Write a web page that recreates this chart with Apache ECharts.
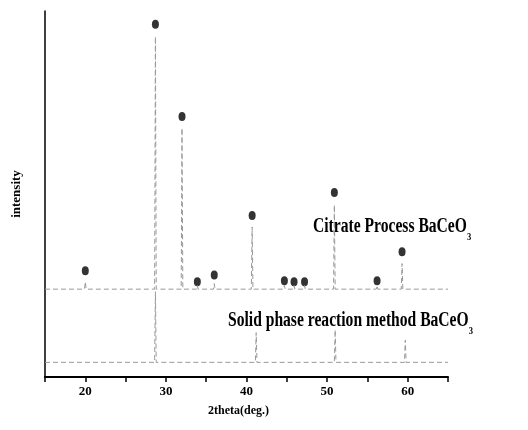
<!DOCTYPE html>
<html>
<head>
<meta charset="utf-8">
<script src="https://cdn.jsdelivr.net/npm/echarts@6/dist/echarts.min.js"></script>
<style>
html,body{margin:0;padding:0;background:#fff;}
#chart{width:528px;height:430px;}
</style>
</head>
<body>
<div id="chart"></div>
<script>
// 2theta tick labels shown on the x axis
var tickLabels = [20, 30, 40, 50, 60];

// Citrate process BaCeO3 pattern (2theta, intensity)
var citrateTheta = [15, 19.9, 20.0, 20.1, 28.6, 28.7, 28.8, 31.9, 32.0, 32.1, 33.8, 33.9, 34.0, 35.9, 36.0, 36.1, 40.6, 40.7, 40.8, 44.6, 44.7, 44.8, 45.8, 45.9, 46.0, 47.1, 47.2, 47.3, 50.8, 50.9, 51.0, 56.1, 56.2, 56.3, 59.2, 59.3, 59.4, 65];
var citrateIntensity = [24, 24, 26, 24, 24, 93, 24, 24, 68, 24, 24, 25, 24, 24, 25.5, 24, 24, 41, 24, 24, 25, 24, 24, 25, 24, 24, 25, 24, 24, 47, 24, 24, 25, 24, 24, 31, 24, 24];

// Peak markers on the citrate pattern
var markerTheta = [20.0, 28.7, 32.0, 33.9, 36.0, 40.7, 44.7, 45.9, 47.2, 50.9, 56.2, 59.3];
var markerIntensity = [29.0, 96.4, 71.2, 26.0, 27.9, 44.1, 26.3, 26.0, 26.0, 50.4, 26.3, 34.2];

// Solid phase reaction BaCeO3 pattern (2theta, intensity)
var solidTheta = [15, 28.6, 28.7, 28.8, 41.1, 41.2, 41.3, 50.9, 51.0, 51.1, 59.6, 59.7, 59.8, 65];
var solidIntensity = [4, 4, 23.3, 4, 4, 12.1, 4, 4, 12.9, 4, 4, 10.1, 4, 4];

function pairs(xs, ys) {
  var out = [];
  for (var i = 0; i < xs.length; i++) out.push([xs[i], ys[i]]);
  return out;
}

var chart = echarts.init(document.getElementById('chart'), null, {renderer: 'canvas'});
var serif = '"Liberation Serif", "DejaVu Serif", serif';

chart.setOption({
  animation: false,
  backgroundColor: '#fff',
  grid: {left: 45, right: 80, top: 11, bottom: 53, containLabel: false},
  xAxis: {
    type: 'value',
    min: 15, max: 65, interval: 5,
    name: '2theta(deg.)',
    nameLocation: 'middle',
    nameGap: 28,
    nameTextStyle: {fontFamily: serif, fontWeight: 'bold', fontSize: 12, color: '#000', padding: [0, 16, 0, 0]},
    axisLine: {show: true, lineStyle: {color: '#000', width: 2}},
    axisTick: {show: true, inside: false, length: 5, lineStyle: {color: '#000', width: 1.5}},
    axisLabel: {
      fontFamily: serif, fontWeight: 'bold', fontSize: 13, color: '#000', margin: 8,
      formatter: function (v) { return tickLabels.indexOf(v) >= 0 ? String(v) : ''; }
    },
    splitLine: {show: false}
  },
  yAxis: {
    type: 'value',
    min: 0, max: 100,
    name: 'intensity',
    nameLocation: 'middle',
    nameGap: 22,
    nameRotate: 90,
    nameTextStyle: {fontFamily: serif, fontWeight: 'bold', fontSize: 13, color: '#000'},
    axisLine: {show: true, lineStyle: {color: '#000', width: 1.5}},
    axisTick: {show: false},
    axisLabel: {show: false},
    splitLine: {show: false}
  },
  series: [
    {
      type: 'line', data: pairs(citrateTheta, citrateIntensity),
      showSymbol: false, silent: true,
      lineStyle: {color: '#999', width: 1, type: [5, 3]}
    },
    {
      type: 'line', data: pairs(solidTheta, solidIntensity),
      showSymbol: false, silent: true,
      lineStyle: {color: '#999', width: 1, type: [5, 3]}
    },
    {
      type: 'scatter', data: pairs(markerTheta, markerIntensity),
      symbol: 'circle', symbolSize: [7, 9],
      itemStyle: {color: '#000'}
    }
  ],
  graphic: [
    {
      type: 'text', x: 313, y: 217, scaleX: 0.78,
      style: {
        text: '{a|Citrate Process BaCeO}{b|3}',
        fill: '#000',
        rich: {
          a: {fontFamily: serif, fontWeight: 'bold', fontSize: 20, lineHeight: 26, verticalAlign: 'top'},
          b: {fontFamily: serif, fontWeight: 'bold', fontSize: 11, lineHeight: 26, verticalAlign: 'bottom'}
        }
      }
    },
    {
      type: 'text', x: 228, y: 311, scaleX: 0.78,
      style: {
        text: '{a|Solid phase reaction method BaCeO}{b|3}',
        fill: '#000',
        rich: {
          a: {fontFamily: serif, fontWeight: 'bold', fontSize: 20, lineHeight: 26, verticalAlign: 'top'},
          b: {fontFamily: serif, fontWeight: 'bold', fontSize: 11, lineHeight: 26, verticalAlign: 'bottom'}
        }
      }
    }
  ]
});
</script>
</body>
</html>
